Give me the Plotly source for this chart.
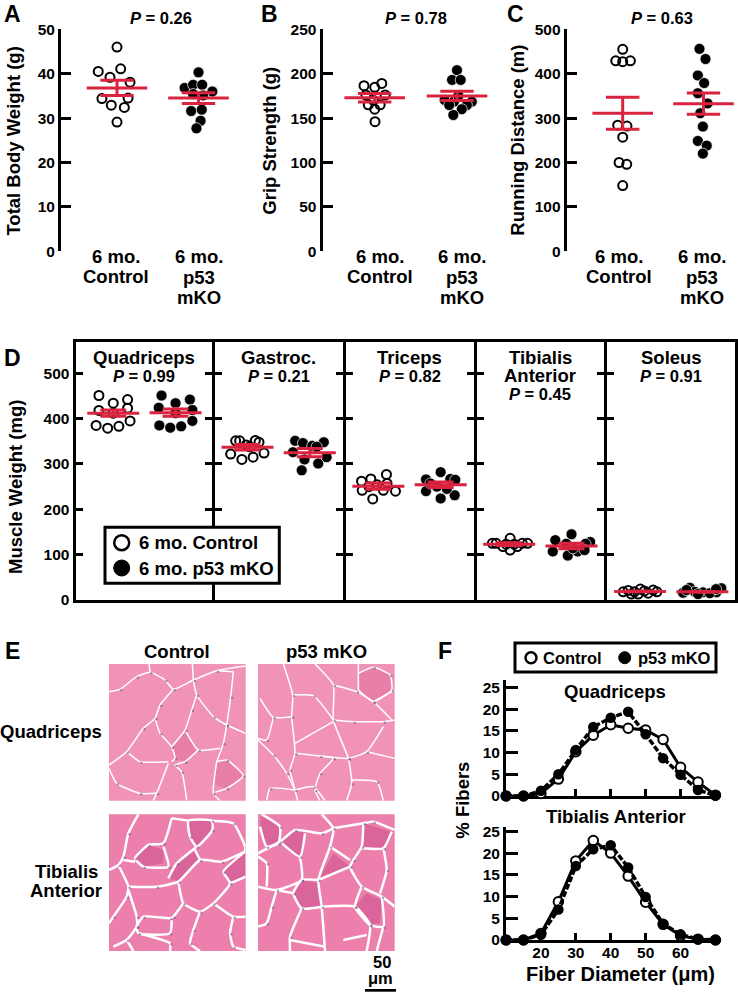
import plotly.graph_objects as go

W, H = 738, 992
FONT = "Liberation Sans"
RED = "#d9233f"

# Panel A - total body weight (g)
a_ctrl = [46.0, 40.5, 41.1, 39.2, 38.1, 34.4, 34.5, 32.9, 32.4, 29.1]
a_ctrl_jit = [0, -0.23, 0.045, -0.086, 0.16, -0.185, 0.136, -0.07, 0.09, 0]
a_mko = [40.3, 36.8, 37.5, 37.5, 36.0, 35.4, 35.1, 31.6, 31.9, 29.4, 27.7]
a_mko_jit = [0, -0.17, -0.066, 0.045, 0.17, -0.066, 0.057, -0.09, 0.04, 0.025, -0.025]
a_mean = [36.8, 34.5]
a_sem = [1.7, 1.2]

# Panel B - grip strength (g)
b_ctrl = [186.5, 189, 184.7, 176, 176, 165, 165, 160, 146, 170]
b_ctrl_jit = [-0.13, 0.086, 0, -0.107, 0.127, -0.078, 0.066, 0, 0.004, -0.016]
b_mko = [204, 193, 193, 170.4, 168.5, 168.5, 164.7, 160, 153.5, 164.7, 175]
b_mko_jit = [0, -0.06, 0.045, -0.15, -0.037, 0.18, 0.12, 0.058, -0.045, -0.095, 0.016]
b_mean = [173, 174.9]
b_sem = [4.8, 5.2]

# Panel C - running distance (m)
c_ctrl = [455, 429, 427, 429, 284, 282, 257, 200, 196, 148]
c_ctrl_jit = [0, -0.086, 0, 0.095, -0.062, 0.053, 0, -0.045, 0.05, 0]
c_mko = [456, 433, 396, 379, 356, 333, 311, 281, 248.5, 238, 220]
c_mko_jit = [-0.05, 0.025, -0.07, 0.008, -0.07, 0.05, -0.04, -0.008, -0.07, 0.04, -0.008]
c_mean = [311, 332.6]
c_sem = [36, 24]

# Panel D - muscle weight (mg)
muscles = ["Quadriceps", "Gastroc.", "Triceps", "Tibialis", "Soleus"]
d_ctrl = [
    [451, 434, 442, 418, 423, 395, 385, 379, 383, 412],
    [351, 351, 352, 348, 342, 322, 310, 315, 324, 338],
    [262, 267, 277, 242, 223, 242, 240, 257, 250, 254],
    [136, 125, 125, 125, 125, 118, 110, 118, 123, 123],
    [18, 21, 18, 24, 15, 22, 18, 13, 13, 20],
]
d_ctrl_jit = [
    [-0.23, 0, 0.23, -0.23, 0.23, 0.27, -0.275, -0.09, 0.09, 0],
    [-0.19, -0.126, 0.126, 0.185, -0.02, -0.27, -0.09, 0.09, 0.265, 0.035],
    [-0.27, -0.12, 0.13, -0.26, -0.09, 0.08, 0.275, 0.14, -0.15, -0.02],
    [0.015, -0.27, -0.21, 0.295, 0.21, -0.1, 0.015, 0.13, -0.05, 0.08],
    [-0.27, -0.19, -0.09, 0.005, 0.13, 0.21, 0.27, -0.14, -0.03, 0.07],
]
d_mko = [
    [451, 434, 442, 424, 419, 395, 385, 380, 383, 412],
    [351, 346, 348, 340, 326, 310, 301, 315, 286, 338],
    [266, 282, 267, 265, 240, 224, 231, 257, 245, 250],
    [145, 132, 128, 124, 107, 98, 107, 124, 110, 114],
    [27, 16, 18, 17, 17, 26, 13, 15, 22, 24],
]
d_mko_jit = [
    [-0.225, 0, 0.23, -0.27, 0.27, 0.27, -0.26, -0.085, 0.09, 0],
    [-0.235, -0.11, 0.225, 0.04, -0.27, -0.085, 0.135, 0.27, -0.13, 0.11],
    [-0.235, 0, 0.155, 0.235, -0.235, 0, 0.225, -0.165, 0.1, -0.06],
    [0, -0.26, 0.3, 0.225, -0.3, -0.06, 0.1, -0.085, 0.21, 0.02],
    [-0.2, -0.31, -0.12, 0.01, 0.225, 0.305, -0.07, 0.12, -0.255, 0.22],
]
d_mean = [[412, 413], [337, 325], [251, 254], [123, 119], [19, 18]]
d_sem = [[7, 8], [6, 9], [7, 6], [3, 6], [1, 1]]
d_pvals = ["0.99", "0.21", "0.82", "0.45", "0.91"]

# Panel F - fiber diameter distribution (% fibers)
diameter = [10, 15, 20, 25, 30, 35, 40, 45, 50, 55, 60, 65, 70]
f_quad_ctrl = [0, 0, 0.6, 3.9, 10.2, 14, 16.4, 15.6, 15.2, 13, 6.6, 3.2, 0.2]
f_quad_mko = [0, 0, 1.2, 5, 10.6, 15.9, 18, 19.4, 14.2, 8.7, 4.9, 1.4, 0.1]
f_ta_ctrl = [0, 0, 1.5, 8.8, 18.2, 22.9, 20, 14.7, 8.7, 3.6, 1, 0.2, 0]
f_ta_mko = [0, 0, 1.2, 7, 17, 20.9, 21.8, 16.7, 9.9, 3.7, 1.3, 0.2, 0]

e_q_ctrl_lines = [
    [(327, 185), (360, 178), (410, 140), (450, 127), (495, 150), (520, 178), (580, 150), (650, 122), (737, 108)],
    [(450, 127), (447, 102)], [(580, 150), (577, 102)], [(650, 122), (700, 125)],
    [(520, 178), (480, 225), (465, 265), (430, 295), (380, 365), (327, 405)],
    [(580, 150), (590, 195), (640, 260), (680, 285), (737, 310)],
    [(700, 125), (692, 200), (680, 285), (670, 340), (650, 395)],
    [(590, 195), (575, 240), (555, 300), (515, 350)],
    [(465, 265), (480, 310), (515, 350), (525, 385), (515, 395)],
    [(555, 300), (595, 360), (660, 355)],
    [(595, 360), (555, 395), (525, 405), (545, 425), (560, 512)],
    [(380, 365), (420, 395), (505, 395)], [(505, 400), (470, 490), (460, 512)],
    [(327, 415), (350, 460), (420, 490), (470, 490)], [(650, 395), (640, 490), (660, 512)],
    [(650, 395), (680, 390), (730, 437), (680, 475), (645, 487)],
]
e_q_ctrl_dark = [
    [(555, 305), (590, 360), (550, 395), (525, 385), (518, 350)],
    [(680, 390), (730, 437), (680, 475), (645, 465), (650, 400)],
]
e_q_mko_lines = [
    [(850, 102), (878, 195), (875, 260), (885, 370), (870, 420), (885, 480), (893, 512)],
    [(945, 102), (1000, 165), (1000, 270), (1045, 385), (1055, 460), (1040, 512)],
    [(878, 195), (940, 197), (1000, 270)], [(1000, 165), (1070, 185), (1120, 215), (1175, 270)],
    [(1120, 215), (1184, 180)], [(1000, 270), (1060, 275), (1150, 275), (1184, 270)],
    [(875, 260), (820, 262), (780, 205)], [(820, 262), (800, 330), (774, 325)],
    [(774, 330), (820, 375), (860, 430), (885, 480)], [(885, 340), (1000, 275)],
    [(885, 370), (960, 378), (1045, 385), (1100, 365), (1150, 290)], [(1100, 365), (1184, 385)],
    [(960, 378), (1000, 385), (960, 430), (945, 480), (960, 512)],
    [(1055, 450), (1130, 455), (1150, 512)], [(1075, 102), (1075, 180)],
    [(1075, 130), (1120, 112), (1170, 135), (1175, 180), (1120, 215), (1075, 180)],
    [(885, 480), (940, 470), (975, 512)], [(885, 480), (810, 475), (800, 512)],
]
e_q_mko_dark = [[(1075, 130), (1120, 112), (1170, 135), (1175, 180), (1120, 215), (1075, 180)]]
e_ta_ctrl_lines = [
    [(415, 553), (385, 610), (370, 680), (355, 705), (327, 720)],
    [(355, 705), (385, 770), (380, 800), (340, 860), (327, 880)],
    [(385, 770), (470, 770), (535, 755), (600, 690), (665, 695), (735, 665)],
    [(515, 565), (490, 640), (445, 645), (405, 685), (430, 710), (505, 710), (490, 650)],
    [(370, 690), (405, 695)], [(565, 572), (570, 620), (590, 650), (637, 600), (635, 572), (565, 572)],
    [(590, 650), (530, 700), (505, 745)], [(600, 690), (585, 660)],
    [(535, 755), (550, 820), (600, 845), (640, 820), (690, 760), (670, 725), (735, 665)],
    [(690, 760), (737, 740)],
    [(550, 820), (520, 860), (510, 865), (430, 860), (410, 890), (415, 910), (510, 910), (515, 870)],
    [(385, 780), (410, 860), (410, 890), (380, 930), (340, 950)],
    [(600, 845), (580, 900), (570, 940), (600, 963)], [(640, 820), (700, 860), (737, 860)],
    [(700, 860), (690, 910), (700, 950), (737, 960)], [(415, 910), (510, 940), (510, 963)],
    [(515, 565), (565, 572)], [(635, 572), (700, 580), (735, 650), (735, 665)], [(380, 930), (400, 963)],
]
e_ta_ctrl_dark = [
    [(445, 645), (490, 660), (490, 700), (430, 710), (405, 685)],
    [(565, 572), (635, 572), (637, 600), (590, 650), (570, 620)],
    [(530, 700), (590, 660), (600, 690), (540, 755), (505, 745)],
    [(670, 725), (700, 680), (735, 670), (735, 745), (690, 760)],
]
e_ta_mko_lines = [
    [(965, 553), (1000, 595), (990, 650), (955, 750), (965, 830), (975, 963)],
    [(1000, 595), (1090, 580), (1120, 575), (1184, 600)],
    [(1090, 580), (1085, 650), (1060, 690), (1050, 710), (1085, 770), (1145, 800), (1184, 830)],
    [(990, 650), (1050, 690)], [(1085, 655), (1150, 655), (1175, 605)],
    [(1150, 655), (1160, 720), (1140, 790)],
    [(774, 670), (840, 635), (885, 600), (965, 610), (1000, 595)],
    [(840, 635), (900, 680), (915, 610)], [(785, 553), (840, 590), (835, 640), (800, 650), (780, 590)],
    [(900, 680), (905, 750), (830, 780), (774, 770)],
    [(955, 750), (905, 750), (880, 790), (905, 835), (965, 830)], [(1050, 710), (955, 750)],
    [(830, 780), (815, 830), (800, 880), (774, 890)], [(880, 790), (830, 780)],
    [(905, 835), (870, 920), (870, 963)], [(965, 830), (1065, 830), (1110, 885), (1100, 963)],
    [(1085, 770), (1065, 830), (1110, 885), (1150, 890), (1145, 800)], [(1150, 890), (1130, 963)],
    [(870, 930), (975, 950)], [(1030, 930), (1100, 915)], [(774, 680), (800, 700), (800, 770)],
]
e_ta_mko_dark = [
    [(955, 750), (1000, 670), (1050, 710)],
    [(880, 790), (905, 750), (955, 760), (965, 830), (905, 835)],
    [(840, 635), (885, 600), (915, 610), (900, 680)],
    [(785, 553), (840, 590), (835, 640), (800, 650), (780, 590)],
    [(1065, 830), (1100, 790), (1145, 810), (1140, 880), (1110, 885)],
    [(1090, 580), (1175, 605), (1150, 655), (1090, 650)],
]

fig = go.Figure()
layout_axes = {}
annotations = []
shapes = []
n_axes = 0


def bold(size):
    return dict(family=FONT, size=size, color="black", weight="bold")


def label(x, y, text, size=18.5, angle=0, align="center"):
    # x and y are page pixels, y counted from the top
    annotations.append(dict(
        x=x / W, y=1 - y / H, xref="paper", yref="paper", text=text, showarrow=False,
        font=bold(size), textangle=angle, xanchor=align, yanchor="middle",
    ))


def new_axes(left, right, top, bottom, xaxis, yaxis):
    global n_axes
    n_axes += 1
    suffix = "" if n_axes == 1 else str(n_axes)
    xaxis.update(domain=[left / W, right / W], anchor=f"y{suffix}", layer="below traces")
    yaxis.update(domain=[1 - bottom / H, 1 - top / H], anchor=f"x{suffix}", layer="below traces")
    layout_axes[f"xaxis{suffix}"] = xaxis
    layout_axes[f"yaxis{suffix}"] = yaxis
    return f"x{suffix}", f"y{suffix}"


def add_group(xa, ya, pos, values, jitter, filled):
    xs = [pos + j for j in jitter]
    if filled:
        marker = dict(symbol="circle", size=11, color="black", line=dict(color="white", width=0.7))
    else:
        marker = dict(symbol="circle-open", size=9, color="black", line=dict(color="black", width=2))
    fig.add_trace(go.Scatter(x=xs, y=values, mode="markers", marker=marker, xaxis=xa, yaxis=ya,
                             cliponaxis=False, showlegend=False))


def add_mean(xa, ya, means, sems, half_width, cap):
    fig.add_trace(go.Scatter(
        x=[1, 2], y=means, mode="markers", marker=dict(size=1, color=RED), xaxis=xa, yaxis=ya,
        cliponaxis=False, showlegend=False,
        error_x=dict(type="constant", value=half_width, color=RED, thickness=3, width=0),
        error_y=dict(type="data", array=sems, color=RED, thickness=3, width=cap),
    ))


def scatter_panel(left, right, c1, c2, ymax, dtick, ctrl, ctrl_jit, mko, mko_jit, means, sems):
    unit = c2 - c1
    xa, ya = new_axes(
        left, right, 29.3, 251.3,
        dict(range=[1 + (left - c1) / unit, 1 + (right - c1) / unit], visible=False),
        dict(range=[0, ymax], tick0=0, dtick=dtick, ticks="inside", ticklen=10, tickwidth=3,
             showline=True, linewidth=3, linecolor="black", tickcolor="black", showgrid=False,
             zeroline=False, tickfont=bold(15.5)),
    )
    add_group(xa, ya, 1, ctrl, ctrl_jit, False)
    add_group(xa, ya, 2, mko, mko_jit, True)
    add_mean(xa, ya, means, sems, 30.3 / unit, 16.7)


scatter_panel(61, 240, 117, 198.5, 50, 10, a_ctrl, a_ctrl_jit, a_mko, a_mko_jit, a_mean, a_sem)
scatter_panel(322.5, 500, 374.7, 457, 250, 50, b_ctrl, b_ctrl_jit, b_mko, b_mko_jit, b_mean, b_sem)
scatter_panel(566.7, 736, 622.7, 703.5, 500, 100, c_ctrl, c_ctrl_jit, c_mko, c_mko_jit, c_mean, c_sem)

# Panel D, five frames side by side. Lines draw outside the domain, so each
# frame is pulled in by half a line to make neighbouring borders coincide.
d_edges = [75.5, 213.3, 344, 475, 605.7, 736.7]
for i in range(5):
    left = d_edges[i] + (1.5 if i > 0 else 0)
    right = d_edges[i + 1] - 1.5
    mid = (d_edges[i] + d_edges[i + 1]) / 2
    xa, ya = new_axes(
        left, right, 342, 600,
        dict(range=[1.5 + (left - mid) / 62.3, 1.5 + (right - mid) / 62.3],
             showline=True, mirror=True, linewidth=3, linecolor="black", showticklabels=False,
             ticks="", showgrid=False, zeroline=False),
        dict(range=[0, 569], tick0=0, dtick=100, ticks="inside", ticklen=7, tickwidth=2.5,
             tickcolor="black", showline=True, linewidth=3, linecolor="black",
             mirror="ticks" if i < 4 else True, showgrid=False, zeroline=False,
             showticklabels=i == 0, tickfont=bold(15.5)),
    )
    add_group(xa, ya, 1, d_ctrl[i], d_ctrl_jit[i], False)
    add_group(xa, ya, 2, d_mko[i], d_mko_jit[i], True)
    add_mean(xa, ya, d_mean[i], d_sem[i], 26 / 62.3, 13)


# Panel E, the four muscle sections
def micrograph(left, top, x0, y0, lines, dark, base, shade, line_w):
    xa, ya = new_axes(
        left, left + 136.7, top, top + 136.7,
        dict(range=[x0, x0 + 410], visible=False),
        dict(range=[y0 + 410, y0], visible=False),
    )
    shapes.append(dict(type="rect", xref="paper", yref="paper", layer="below",
                       x0=left / W, x1=(left + 136.7) / W, y0=1 - (top + 136.7) / H, y1=1 - top / H,
                       fillcolor=base, line=dict(width=0)))
    for cell in dark:
        fig.add_trace(go.Scatter(x=[p[0] for p in cell] + [cell[0][0]], y=[p[1] for p in cell] + [cell[0][1]],
                                 mode="lines", fill="toself", fillcolor=shade, line=dict(width=0),
                                 xaxis=xa, yaxis=ya, showlegend=False, hoverinfo="skip"))
    for path in lines:
        fig.add_trace(go.Scatter(x=[p[0] for p in path], y=[p[1] for p in path], mode="lines",
                                 line=dict(color="white", width=line_w, shape="spline", smoothing=0.5),
                                 xaxis=xa, yaxis=ya, showlegend=False, hoverinfo="skip"))
    # nuclei sit at the fibre junctions
    nuclei = [p for path in lines for p in path[1:-1]]
    fig.add_trace(go.Scatter(x=[p[0] + 4 for p in nuclei], y=[p[1] + 3 for p in nuclei], mode="markers",
                             marker=dict(size=2.5, color="#6f5a9c", opacity=0.6),
                             xaxis=xa, yaxis=ya, showlegend=False, hoverinfo="skip"))


micrograph(109, 664, 327, 102, e_q_ctrl_lines, e_q_ctrl_dark, "#f193b6", "#e87fa9", 1.5)
micrograph(258, 664, 774, 102, e_q_mko_lines, e_q_mko_dark, "#f193b6", "#e87fa9", 1.5)
micrograph(109, 814.3, 327, 553, e_ta_ctrl_lines, e_ta_ctrl_dark, "#ec7fab", "#d9659a", 2.5)
micrograph(258, 814.3, 774, 553, e_ta_mko_lines, e_ta_mko_dark, "#ec7fab", "#d9659a", 2.5)


# Panel F, fibre diameter curves
def curve_panel(top, bottom, ymax, ctrl, mko, show_x):
    xa, ya = new_axes(
        506, 720, top, bottom,
        dict(range=[10, 71.3], tickvals=[20, 30, 40, 50, 60], ticks="inside", ticklen=7, tickwidth=3,
             tickcolor="black", showline=True, linewidth=3, linecolor="black", showgrid=False,
             zeroline=False, showticklabels=show_x, tickfont=bold(15.5), ticklabelstandoff=-4),
        dict(range=[0, ymax], tick0=0, dtick=5, ticks="inside", ticklen=12, tickwidth=3, tickcolor="black",
             showline=True, linewidth=3, linecolor="black", showgrid=False, zeroline=False,
             tickfont=bold(15.5)),
    )
    fig.add_trace(go.Scatter(x=diameter, y=ctrl, mode="lines+markers", xaxis=xa, yaxis=ya, cliponaxis=False,
                             line=dict(color="black", width=3), showlegend=False,
                             marker=dict(size=9.5, color="white", line=dict(color="black", width=2))))
    fig.add_trace(go.Scatter(x=diameter, y=mko, mode="lines+markers", xaxis=xa, yaxis=ya, cliponaxis=False,
                             line=dict(color="black", width=3.5, dash="6px,2px"), showlegend=False,
                             marker=dict(size=10.5, color="black")))


curve_panel(680, 796, 26.7, f_quad_ctrl, f_quad_mko, False)
curve_panel(827, 940, 26, f_ta_ctrl, f_ta_mko, True)

# Panel letters
for letter, x, y in [("A", 12, 14), ("B", 269, 14), ("C", 515.7, 14), ("D", 12, 358), ("E", 13, 651), ("F", 445, 651)]:
    label(x, y, letter, size=23)

# P values above A-C
label(161, 17.7, "<i>P</i> = 0.26", 16.5)
label(415.7, 17.7, "<i>P</i> = 0.78", 16.5)
label(661.7, 17.7, "<i>P</i> = 0.63", 16.5)

# Axis titles
label(13.3, 141.3, "Total Body Weight (g)", angle=-90)
label(270, 140.7, "Grip Strength (g)", angle=-90)
label(516.7, 140, "Running Distance (m)", angle=-90)
label(15, 487, "Muscle Weight (mg)", angle=-90)
label(461.7, 800, "% Fibers", angle=-90)
label(620.7, 974, "Fiber Diameter (μm)", 20)

# Group labels under A-C, one line at a time for the tight leading
for ctrl_x, mko_x in [(115.7, 198.6), (379.5, 461.7), (619.3, 701.7)]:
    label(ctrl_x, 256.7, "6 mo.")
    label(ctrl_x, 276.7, "Control")
    label(mko_x, 256.7, "6 mo.")
    label(mko_x, 277, "p53")
    label(mko_x, 297.6, "mKO")

# Panel D headings
d_heads = [144.4, 278.6, 409.6, 540.4, 671]
for i, name in enumerate(muscles):
    label(d_heads[i], 357, name, 18.5)
    if name == "Tibialis":
        label(d_heads[i], 375.5, "Anterior", 18.5)
        label(d_heads[i], 394, "<i>P</i> = " + d_pvals[i], 16.5)
    else:
        label(d_heads[i], 376, "<i>P</i> = " + d_pvals[i], 16.5)

# Panel E labels
label(177, 651.7, "Control")
label(326.7, 651.7, "p53 mKO")
label(51, 731, "Quadriceps")
label(66.7, 871.7, "Tibialis")
label(66, 890.7, "Anterior")
label(381.7, 962.3, "50", 16.5)
label(380.7, 978.3, "μm", 16.5)

# Panel F headings
label(615, 691.7, "Quadriceps")
label(615.7, 816.7, "Tibialis Anterior")


# Hand-placed keys, the boxes sit over the panel frames
def box(x0, x1, y0, y1, fill="white", line_w=3):
    shapes.append(dict(type="rect", xref="paper", yref="paper", x0=x0 / W, x1=x1 / W,
                       y0=1 - y1 / H, y1=1 - y0 / H, fillcolor=fill,
                       line=dict(color="black", width=line_w)))


def dot(x, y, d, fill, line_w):
    shapes.append(dict(type="circle", xref="paper", yref="paper", x0=(x - d / 2) / W, x1=(x + d / 2) / W,
                       y0=1 - (y + d / 2) / H, y1=1 - (y - d / 2) / H, fillcolor=fill,
                       line=dict(color="black", width=line_w)))


box(105, 279.3, 527.3, 583.3)
dot(121.7, 542.7, 15, "white", 2.5)
dot(121.7, 568, 16, "black", 1)
label(136.7, 542.7, "6 mo. Control", 18.5, align="left")
label(136.7, 568, "6 mo. p53 mKO", 18.5, align="left")

box(515, 716, 643, 672)
dot(531, 657.7, 11, "white", 2.5)
dot(624.7, 657.7, 12, "black", 1)
label(541, 657.7, "Control", 16.5, align="left")
label(635.7, 657.7, "p53 mKO", 16.5, align="left")

# Scale bar
box(365, 396, 989, 991.7, fill="black", line_w=0)

fig.update_layout(
    width=W, height=H, margin=dict(l=0, r=0, t=0, b=0, autoexpand=False), autosize=False,
    paper_bgcolor="white", plot_bgcolor="rgba(0,0,0,0)", showlegend=False,
    annotations=annotations, shapes=shapes, font=dict(family=FONT),
    **layout_axes,
)

fig.write_html("out.html", config={"displayModeBar": False}, post_script="document.body.style.margin='0';")
